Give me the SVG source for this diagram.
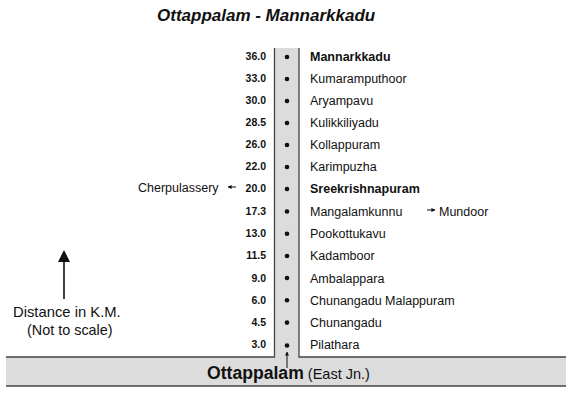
<svg xmlns="http://www.w3.org/2000/svg" width="575" height="395" viewBox="0 0 575 395">
<defs>
<style>
.km{font-family:"Liberation Sans",Arial,sans-serif;font-size:10.5px;font-weight:bold;fill:#111;text-anchor:end}
.nm{font-family:"Liberation Sans",Arial,sans-serif;font-size:12.5px;fill:#111}
.b{font-weight:bold}
.rd{stroke:#444;stroke-width:1.3;fill:none}
.dot{fill:#111}
.ar{stroke:#111;stroke-width:1;fill:none}
</style>
<marker id="ah" viewBox="0 0 10 10" refX="9" refY="5" markerWidth="4" markerHeight="4" orient="auto" markerUnits="userSpaceOnUse">
<path d="M0,0 L10,5 L0,10 z" fill="#111"/>
</marker>
</defs>
<rect width="575" height="395" fill="#fff"/>
<text x="157" y="21" font-family="Liberation Sans,Arial,sans-serif" font-size="17" font-weight="bold" font-style="italic" fill="#111">Ottappalam - Mannarkkadu</text>
<g id="road">
<rect x="274.5" y="48" width="24.5" height="310" fill="#dcdcdc"/>
<rect x="6" y="357" width="560" height="29" fill="#dcdcdc"/>
<path class="rd" d="M274.5,48 V357 H6 M299,48 V357 H566 M6,386 H566"/>
</g>
<g id="connectors">
<path class="ar" d="M287,368 V352" marker-end="url(#ah)"/>
<path class="ar" d="M236,187 H228" marker-end="url(#ah)"/>
<path class="ar" d="M427,210 H435" marker-end="url(#ah)"/>
<path d="M64,299 V262" stroke="#111" stroke-width="1.6"/>
<path d="M64,250 L58,262 L70,262 z" fill="#111"/>
</g>
<g id="n36"><text class="km" x="266" y="60">36.0</text><circle class="dot" cx="287" cy="57" r="2.3"/><text class="nm b" x="310" y="61">Mannarkkadu</text></g>
<g id="n33"><text class="km" x="266" y="82">33.0</text><circle class="dot" cx="287" cy="79" r="2.3"/><text class="nm" x="310" y="83">Kumaramputhoor</text></g>
<g id="n30"><text class="km" x="266" y="104">30.0</text><circle class="dot" cx="287" cy="101" r="2.3"/><text class="nm" x="310" y="105">Aryampavu</text></g>
<g id="n285"><text class="km" x="266" y="126">28.5</text><circle class="dot" cx="287" cy="123" r="2.3"/><text class="nm" x="310" y="127">Kulikkiliyadu</text></g>
<g id="n26"><text class="km" x="266" y="148">26.0</text><circle class="dot" cx="287" cy="145" r="2.3"/><text class="nm" x="310" y="149">Kollappuram</text></g>
<g id="n22"><text class="km" x="266" y="170">22.0</text><circle class="dot" cx="287" cy="167" r="2.3"/><text class="nm" x="310" y="171">Karimpuzha</text></g>
<g id="n20"><text class="km" x="266" y="192">20.0</text><circle class="dot" cx="287" cy="189" r="2.3"/><text class="nm b" x="310" y="193">Sreekrishnapuram</text><text class="nm" x="138" y="192">Cherpulassery</text></g>
<g id="n173"><text class="km" x="266" y="215">17.3</text><circle class="dot" cx="287" cy="211.5" r="2.3"/><text class="nm" x="310" y="215.5">Mangalamkunnu</text><text class="nm" x="439" y="215.5">Mundoor</text></g>
<g id="n13"><text class="km" x="266" y="237">13.0</text><circle class="dot" cx="287" cy="233.7" r="2.3"/><text class="nm" x="310" y="238">Pookottukavu</text></g>
<g id="n115"><text class="km" x="266" y="259">11.5</text><circle class="dot" cx="287" cy="256" r="2.3"/><text class="nm" x="310" y="260">Kadamboor</text></g>
<g id="n9"><text class="km" x="266" y="281.5">9.0</text><circle class="dot" cx="287" cy="278" r="2.3"/><text class="nm" x="310" y="282.5">Ambalappara</text></g>
<g id="n6"><text class="km" x="266" y="303.5">6.0</text><circle class="dot" cx="287" cy="300.3" r="2.3"/><text class="nm" x="310" y="304.5">Chunangadu Malappuram</text></g>
<g id="n45"><text class="km" x="266" y="326">4.5</text><circle class="dot" cx="287" cy="322.6" r="2.3"/><text class="nm" x="310" y="327">Chunangadu</text></g>
<g id="n3"><text class="km" x="266" y="348">3.0</text><circle class="dot" cx="287" cy="345.5" r="2.3"/><text class="nm" x="310" y="349">Pilathara</text></g>
<g id="legend">
<text x="13" y="317" font-family="Liberation Sans,Arial,sans-serif" font-size="14.8" fill="#111">Distance in K.M.</text>
<text x="27" y="335" font-family="Liberation Sans,Arial,sans-serif" font-size="14.4" fill="#111">(Not to scale)</text>
</g>
<g id="ottappalam">
<text x="207" y="379" font-family="Liberation Sans,Arial,sans-serif" fill="#111"><tspan font-size="17.6" font-weight="bold">Ottappalam</tspan><tspan font-size="14.5"> (East Jn.)</tspan></text>
</g>
</svg>
